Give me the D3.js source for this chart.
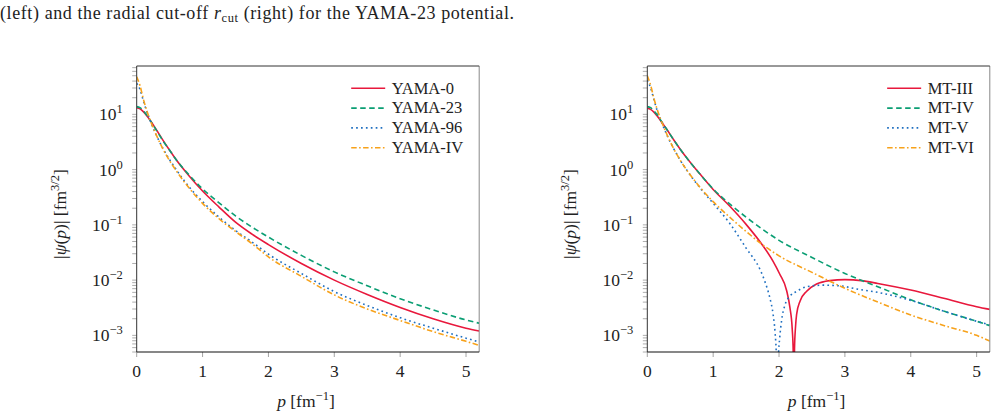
<!DOCTYPE html>
<html>
<head>
<meta charset="utf-8">
<script src="https://cdn.jsdelivr.net/npm/d3@7"></script>
<style>
  body { margin: 0; background: #fff; }
  svg { display: block; }
  text { font-family: "Liberation Serif", "DejaVu Serif", serif; fill: #222; }
</style>
</head>
<body>
<svg id="fig" width="1003" height="420"></svg>
<script>
// momentum grid shared by most curves [fm^-1]
const pGrid = [0, 0.05, 0.1, 0.15, 0.2, 0.3, 0.4, 0.5, 0.6, 0.8, 1.0, 1.25, 1.5, 1.75, 2.0, 2.5, 3.0, 3.5, 4.0, 4.5, 5.0, 5.2];

// left panel |psi(p)| [fm^3/2]
const yama0  = [13.2, 12.6, 11.2, 9.55, 7.94, 5.25, 3.39, 2.24, 1.51, 0.76, 0.41, 0.21, 0.112, 0.068, 0.044, 0.020, 0.010, 0.0055, 0.0032, 0.0020, 0.00135, 0.0012];
const yama23 = [13.8, 13.2, 11.7, 9.8, 7.94, 5.13, 3.31, 2.24, 1.51, 0.79, 0.447, 0.251, 0.145, 0.091, 0.060, 0.028, 0.0141, 0.0079, 0.0046, 0.0029, 0.0019, 0.00166];
const yama96 = [36.3, 28.2, 17.8, 11.5, 7.94, 4.17, 2.40, 1.51, 1.0, 0.48, 0.263, 0.138, 0.079, 0.049, 0.0295, 0.0132, 0.0062, 0.00347, 0.00209, 0.00135, 0.00089, 0.00076];
const yamaIV = [47.9, 33.1, 19.1, 12.0, 8.13, 4.17, 2.34, 1.45, 0.955, 0.457, 0.245, 0.129, 0.076, 0.0457, 0.0263, 0.0117, 0.0054, 0.0030, 0.00186, 0.00117, 0.00078, 0.00066];

// right panel
const pMT3 = [0, 0.05, 0.1, 0.15, 0.2, 0.3, 0.4, 0.5, 0.6, 0.8, 1.0, 1.25, 1.5, 1.75, 1.91, 2.01, 2.115, 2.165, 2.2, 2.215, 2.225, 2.235, 2.25, 2.267, 2.32, 2.42, 2.57, 2.77, 3.0, 3.25, 3.5, 4.0, 4.5, 5.0, 5.2];
const mt3  = [12.9, 12.3, 11.0, 9.33, 7.76, 5.25, 3.47, 2.34, 1.62, 0.83, 0.437, 0.219, 0.102, 0.0427, 0.0219, 0.0129, 0.0065, 0.0032, 0.00132, 0.00052, 0.00001, 0.00058, 0.0014, 0.0024, 0.0042, 0.0063, 0.0085, 0.0098, 0.0102, 0.0098, 0.0087, 0.0066, 0.0047, 0.0033, 0.00295];
const mt4  = [13.8, 13.2, 11.5, 9.8, 7.94, 5.25, 3.47, 2.34, 1.62, 0.83, 0.447, 0.24, 0.138, 0.083, 0.0525, 0.0257, 0.0132, 0.0076, 0.0044, 0.00275, 0.0018, 0.0015];
const pMT5 = [0, 0.05, 0.1, 0.15, 0.2, 0.3, 0.4, 0.5, 0.6, 0.8, 1.0, 1.25, 1.5, 1.72, 1.79, 1.86, 1.91, 1.94, 1.96, 1.975, 1.99, 2.01, 2.04, 2.09, 2.165, 2.27, 2.42, 2.67, 2.92, 3.18, 3.5, 4.0, 4.5, 5.0, 5.2];
const mt5  = [41.7, 30.2, 18.6, 11.7, 8.13, 4.17, 2.40, 1.48, 0.977, 0.468, 0.245, 0.107, 0.038, 0.0148, 0.0091, 0.0048, 0.0024, 0.00112, 0.0004, 0.00001, 0.0004, 0.00089, 0.0019, 0.00355, 0.0051, 0.0063, 0.0076, 0.0081, 0.0079, 0.0069, 0.0060, 0.0043, 0.00275, 0.0018, 0.00155];
const mt6  = [50.1, 33.9, 19.5, 12.3, 8.32, 4.27, 2.40, 1.48, 0.977, 0.479, 0.263, 0.138, 0.076, 0.0437, 0.0275, 0.0138, 0.0071, 0.0040, 0.00234, 0.00151, 0.0010, 0.00079];

const xTicks = [0, 1, 2, 3, 4, 5];
const yTickExps = [1, 0, -1, -2, -3];

const colors = { red: "#e8183c", green: "#0a9e73", blue: "#1f6fc0", orange: "#f7a21b" };
const styles = {
  solid:   { color: colors.red,    dash: null },
  dashed:  { color: colors.green,  dash: "5.5,3.5" },
  dotted:  { color: colors.blue,   dash: "1.7,3.2" },
  dashdot: { color: colors.orange, dash: "5.5,2.4,1.6,2.4" }
};

const panels = [
  { left: 136.7, series: [
      { name: "YAMA-0",  p: pGrid, v: yama0,  s: styles.solid },
      { name: "YAMA-23", p: pGrid, v: yama23, s: styles.dashed },
      { name: "YAMA-96", p: pGrid, v: yama96, s: styles.dotted },
      { name: "YAMA-IV", p: pGrid, v: yamaIV, s: styles.dashdot } ] },
  { left: 647.3, series: [
      { name: "MT-III", p: pMT3,  v: mt3, s: styles.solid },
      { name: "MT-IV",  p: pGrid, v: mt4, s: styles.dashed },
      { name: "MT-V",   p: pMT5,  v: mt5, s: styles.dotted },
      { name: "MT-VI",  p: pGrid, v: mt6, s: styles.dashdot } ] }
];

const W = 342.5, plotTop = 66, plotBottom = 352;
const svg = d3.select("#fig");

// caption fragment above the figure
const cap = svg.append("text").attr("x", 0).attr("y", 19).style("font-size", "18px")
  .attr("textLength", 514).attr("lengthAdjust", "spacing");
cap.append("tspan").text("(left) and the radial cut-off ");
cap.append("tspan").attr("font-style", "italic").text("r");
cap.append("tspan").style("font-size", "12.5px").attr("dy", 3).text("cut");
cap.append("tspan").attr("dy", -3).text(" (right) for the YAMA-23 potential.");

panels.forEach((panel, idx) => {
  const x = d3.scaleLinear().domain([0, 5.2]).range([panel.left, panel.left + W]);
  const y = d3.scaleLog().domain([5e-4, 75]).range([plotBottom, plotTop]);
  const g = svg.append("g");

  const clipId = "clip" + idx;
  svg.append("clipPath").attr("id", clipId).append("rect")
    .attr("x", panel.left).attr("y", plotTop).attr("width", W).attr("height", plotBottom - plotTop);

  // y ticks (log)
  const minor = [];
  for (let e = -4; e <= 1; e++) for (let k = 1; k <= 9; k++) {
    const v = k * Math.pow(10, e);
    if (v >= 5e-4 && v <= 75) minor.push(v);
  }
  g.selectAll(".ytick").data(minor).join("line")
    .attr("x1", panel.left - 4.5).attr("x2", panel.left)
    .attr("y1", d => y(d)).attr("y2", d => y(d))
    .attr("stroke", "#999").attr("stroke-width", 0.8);

  yTickExps.forEach(e => {
    const t = g.append("text").attr("x", panel.left - 14).attr("y", y(Math.pow(10, e)) + 6)
      .attr("text-anchor", "end").style("font-size", "17.5px");
    t.append("tspan").text("10");
    t.append("tspan").attr("dy", -7).style("font-size", "12.5px").text(e < 0 ? "\u2212" + (-e) : e);
  });

  // x ticks
  g.selectAll(".xtick").data(xTicks).join("line")
    .attr("x1", d => x(d)).attr("x2", d => x(d))
    .attr("y1", plotBottom).attr("y2", plotBottom + 5)
    .attr("stroke", "#999").attr("stroke-width", 0.9);
  g.selectAll(".xlab").data(xTicks).join("text")
    .attr("x", d => x(d)).attr("y", plotBottom + 25)
    .attr("text-anchor", "middle").style("font-size", "17.5px").text(d => d);

  // curves
  const line = d3.line().x(d => x(d[0])).y(d => y(d[1])).curve(d3.curveMonotoneX);
  panel.series.forEach(s => {
    g.append("path").datum(s.p.map((p, i) => [p, s.v[i]]))
      .attr("clip-path", "url(#" + clipId + ")")
      .attr("d", line).attr("fill", "none")
      .attr("stroke", s.s.color).attr("stroke-width", 1.6)
      .attr("stroke-dasharray", s.s.dash);
  });

  // frame
  g.append("line").attr("x1", panel.left + W).attr("x2", panel.left + W).attr("y1", plotTop).attr("y2", plotBottom)
    .attr("stroke", "#888").attr("stroke-width", 1);
  g.append("path").attr("d", `M${panel.left},${plotBottom}V${plotTop}H${panel.left + W}`)
    .attr("fill", "none").attr("stroke", "#333").attr("stroke-width", 1);
  g.append("line").attr("x1", panel.left).attr("x2", panel.left + W).attr("y1", plotBottom).attr("y2", plotBottom)
    .attr("stroke", "#111").attr("stroke-width", 1.1);

  // legend
  const leg = g.append("g");
  const labels = leg.selectAll("text").data(panel.series).join("text")
    .attr("y", (d, i) => 93.5 + i * 19.8).style("font-size", "16.5px").text(d => d.name);
  let maxW = 0;
  labels.each(function() { maxW = Math.max(maxW, this.getComputedTextLength()); });
  const tx = panel.left + W - 16 - maxW;
  labels.attr("x", tx);
  leg.selectAll("line").data(panel.series).join("line")
    .attr("x1", tx - 40.5).attr("x2", tx - 6.5)
    .attr("y1", (d, i) => 88.3 + i * 19.8).attr("y2", (d, i) => 88.3 + i * 19.8)
    .attr("stroke", d => d.s.color).attr("stroke-width", 1.6)
    .attr("stroke-dasharray", d => d.s.dash);

  // axis labels
  const xl = g.append("text").attr("x", panel.left + W / 2 - 2).attr("y", 407)
    .attr("text-anchor", "middle").style("font-size", "17.5px");
  xl.append("tspan").attr("font-style", "italic").text("p");
  xl.append("tspan").text(" [fm");
  xl.append("tspan").attr("dy", -7).style("font-size", "12.5px").text("\u22121");
  xl.append("tspan").attr("dy", 7).text("]");

  const yl = g.append("text")
    .attr("transform", `translate(${panel.left - 71},${(plotTop + plotBottom) / 2 + 5}) rotate(-90)`)
    .attr("text-anchor", "middle").style("font-size", "17.5px");
  yl.append("tspan").text("|");
  yl.append("tspan").attr("font-style", "italic").text("\u03c8");
  yl.append("tspan").text("(");
  yl.append("tspan").attr("font-style", "italic").text("p");
  yl.append("tspan").text(")| [fm");
  yl.append("tspan").attr("dy", -7).style("font-size", "12.5px").text("3/2");
  yl.append("tspan").attr("dy", 7).text("]");
});
</script>
</body>
</html>
